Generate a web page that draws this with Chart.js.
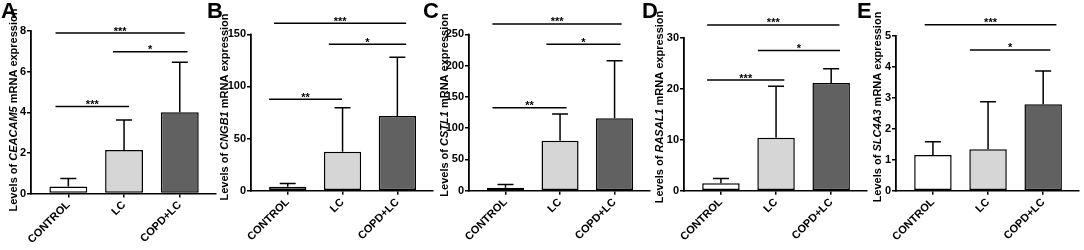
<!DOCTYPE html>
<html>
<head>
<meta charset="utf-8">
<script src="https://cdn.jsdelivr.net/npm/chart.js@4.4.0/dist/chart.umd.min.js"></script>
<style>
  html, body { margin: 0; padding: 0; background: #fff; }
  #wrap { position: relative; width: 1084px; height: 250px; overflow: hidden; }
  canvas { position: absolute; top: 0; }
</style>
</head>
<body>
<div id="wrap"></div>
<script>
// grupos e genes
const categorias = ['CONTROL', 'LC', 'COPD+LC'];
const genes = ['CEACAM5', 'CNGB1', 'CSTL1', 'RASAL1', 'SLC4A3'];
const letras = ['A', 'B', 'C', 'D', 'E'];

// médias (altura das barras) e desvio padrão (barra de erro)
const mediaCEACAM5 = [0.34, 2.14, 4.0];
const dpCEACAM5 = [0.40, 1.48, 2.46];
const mediaCNGB1 = [3.8, 37.4, 71.6];
const dpCNGB1 = [3.2, 42.2, 56.4];
const mediaCSTL1 = [4.8, 80, 115.7];
const dpCSTL1 = [5.2, 42.6, 92.1];
const mediaRASAL1 = [1.45, 10.4, 21.1];
const dpRASAL1 = [0.95, 10.1, 2.8];
const mediaSLC4A3 = [1.15, 1.34, 2.79];
const dpSLC4A3 = [0.43, 1.53, 1.07];

// eixo y
const yMax = [8, 150, 250, 30, 5];
const yPasso = [2, 50, 50, 10, 1];

// significância: de/ate em unidades de categoria, nivel em unidades do eixo y
const sigCEACAM5 = [
    { de: -0.23, ate: 2.09, nivel: 7.9, txt: '***' },
    { de: 0.80, ate: 2.14, nivel: 6.98, txt: '*' },
    { de: -0.23, ate: 1.09, nivel: 4.28, txt: '***' }
];
const sigCNGB1 = [
    { de: -0.25, ate: 2.16, nivel: 160.5, txt: '***' },
    { de: 0.75, ate: 2.16, nivel: 140.4, txt: '*' },
    { de: -0.34, ate: 0.99, nivel: 87.6, txt: '**' }
];
const sigCSTL1 = [
    { de: -0.24, ate: 2.13, nivel: 266.5, txt: '***' },
    { de: 0.75, ate: 2.11, nivel: 234, txt: '*' },
    { de: -0.24, ate: 1.12, nivel: 132.7, txt: '**' }
];
const sigRASAL1 = [
    { de: -0.25, ate: 2.15, nivel: 32.5, txt: '***' },
    { de: 0.67, ate: 2.16, nivel: 27.5, txt: '*' },
    { de: -0.25, ate: 1.15, nivel: 21.7, txt: '***' }
];
const sigSLC4A3 = [
    { de: -0.15, ate: 2.24, nivel: 5.35, txt: '***' },
    { de: 0.67, ate: 2.13, nivel: 4.54, txt: '*' }
];

const medias = [mediaCEACAM5, mediaCNGB1, mediaCSTL1, mediaRASAL1, mediaSLC4A3];
const dps = [dpCEACAM5, dpCNGB1, dpCSTL1, dpRASAL1, dpSLC4A3];
const sigs = [sigCEACAM5, sigCNGB1, sigCSTL1, sigRASAL1, sigSLC4A3];

const coresBarras = ['#ffffff', '#d6d6d6', '#616161'];
const FONTE = '"Liberation Sans", Arial, sans-serif';

// geometria de cada painel (px, coordenadas da página); os canvas se sobrepõem um pouco
const paineis = [
    { left: 0,   width: 217, letraX: 1,   eixoX: 31,  fimX: 216,  topo: 31,   zero: 193.5, tituloX: 14,  tituloY: 110 },
    { left: 205, width: 230, letraX: 207, eixoX: 251, fimX: 433,  topo: 34.3, zero: 190.7, tituloX: 225, tituloY: 107 },
    { left: 421, width: 232, letraX: 423, eixoX: 469, fimX: 650,  topo: 34.3, zero: 190.7, tituloX: 445, tituloY: 105 },
    { left: 640, width: 230, letraX: 642, eixoX: 684, fimX: 867,  topo: 37.7, zero: 190.7, tituloX: 660, tituloY: 107 },
    { left: 856, width: 228, letraX: 857, eixoX: 896, fimX: 1079, topo: 35.7, zero: 190.7, tituloX: 878, tituloY: 107 }
];

// barras de erro (só para cima)
const pluginErro = {
    id: 'erro',
    afterDatasetsDraw(chart) {
        const ctx = chart.ctx;
        const y = chart.scales.y;
        const meta = chart.getDatasetMeta(0);
        const dp = chart.options.plugins.erro.dp;
        ctx.save();
        ctx.strokeStyle = '#000';
        ctx.lineWidth = 1.5;
        meta.data.forEach((bar, i) => {
            const v = chart.data.datasets[0].data[i].y;
            const y0 = y.getPixelForValue(v);
            const y1 = y.getPixelForValue(v + dp[i]);
            ctx.beginPath();
            ctx.moveTo(bar.x, y0);
            ctx.lineTo(bar.x, y1);
            ctx.moveTo(bar.x - 8, y1);
            ctx.lineTo(bar.x + 8, y1);
            ctx.stroke();
        });
        ctx.restore();
    }
};

// linhas de significância, letra do painel, título do eixo y e linha do eixo y
const pluginAnotacoes = {
    id: 'anotacoes',
    afterDraw(chart) {
        const ctx = chart.ctx;
        const o = chart.options.plugins.anotacoes;
        const x = chart.scales.x;
        const y = chart.scales.y;
        ctx.save();
        ctx.strokeStyle = '#000';
        ctx.fillStyle = '#000';
        ctx.lineWidth = 1.5;
        o.sig.forEach(s => {
            const py = y.getPixelForValue(s.nivel);
            const x1 = x.getPixelForValue(s.de);
            const x2 = x.getPixelForValue(s.ate);
            ctx.beginPath();
            ctx.moveTo(x1, py);
            ctx.lineTo(x2, py);
            ctx.stroke();
            ctx.font = 'bold 11px ' + FONTE;
            ctx.textAlign = 'center';
            ctx.textBaseline = 'alphabetic';
            ctx.fillText(s.txt, (x1 + x2) / 2, py + 1.5);
        });

        // eixo y
        const ex = x.getPixelForValue(x.min);
        const yTopo = y.getPixelForValue(y.max);
        const yBase = y.getPixelForValue(0);
        ctx.fillRect(ex - 1, yTopo - 0.75, 1.6, yBase - yTopo + 1.5);

        // letra
        ctx.font = 'bold 22px ' + FONTE;
        ctx.textAlign = 'left';
        ctx.textBaseline = 'alphabetic';
        ctx.fillText(o.letra, o.letraX, 18);

        // título y com o gene em itálico
        const partes = [
            { t: 'Levels of ', f: 'bold 11px ' + FONTE },
            { t: o.gene, f: 'italic bold 11px ' + FONTE },
            { t: ' mRNA expression', f: 'bold 11px ' + FONTE }
        ];
        let total = 0;
        partes.forEach(p => { ctx.font = p.f; p.w = ctx.measureText(p.t).width; total += p.w; });
        ctx.translate(o.tituloX, o.tituloY);
        ctx.rotate(-Math.PI / 2);
        ctx.textBaseline = 'middle';
        let pos = -total / 2;
        partes.forEach(p => { ctx.font = p.f; ctx.fillText(p.t, pos, 0); pos += p.w; });
        ctx.restore();
    }
};

const wrap = document.getElementById('wrap');

paineis.forEach((p, k) => {
    const cv = document.createElement('canvas');
    cv.width = p.width;
    cv.height = 250;
    cv.style.left = p.left + 'px';
    cv.style.width = p.width + 'px';
    cv.style.height = '250px';
    wrap.appendChild(cv);

    const pontos = medias[k].map((v, i) => ({ x: i, y: v }));

    new Chart(cv, {
        type: 'bar',
        data: {
            datasets: [{
                data: pontos,
                backgroundColor: coresBarras,
                borderColor: '#000',
                borderWidth: 1.5,
                borderSkipped: false,
                barPercentage: 0.68,
                categoryPercentage: 1
            }]
        },
        options: {
            responsive: false,
            animation: false,
            layout: {
                padding: { left: 0, right: (p.left + p.width) - p.fimX, top: p.topo, bottom: 0 }
            },
            plugins: {
                legend: { display: false },
                tooltip: { enabled: false },
                erro: { dp: dps[k] },
                anotacoes: {
                    sig: sigs[k], letra: letras[k], gene: genes[k],
                    letraX: p.letraX - p.left,
                    tituloX: p.tituloX - p.left, tituloY: p.tituloY
                }
            },
            scales: {
                x: {
                    type: 'linear',
                    offset: false,
                    min: -0.67,
                    max: 2.65,
                    afterBuildTicks: s => { s.ticks = categorias.map((c, i) => ({ value: i })); },
                    afterFit: s => {
                        s.height = 250 - p.zero;
                        s.paddingLeft = 0;
                        s.paddingRight = 0;
                    },
                    ticks: {
                        callback: v => categorias[v],
                        autoSkip: false,
                        minRotation: 45,
                        maxRotation: 45,
                        padding: 1,
                        color: '#000',
                        font: { family: FONTE, size: 11, weight: 'bold' }
                    },
                    grid: { offset: false, drawOnChartArea: false, drawTicks: true, tickLength: 4, color: '#000', lineWidth: 1.5 },
                    border: { color: '#000', width: 1.5 }
                },
                y: {
                    min: 0,
                    max: yMax[k],
                    afterFit: s => { s.width = p.eixoX - p.left; },
                    ticks: {
                        stepSize: yPasso[k],
                        padding: 1,
                        color: '#000',
                        font: { family: FONTE, size: 11, weight: 'bold' }
                    },
                    grid: { drawOnChartArea: false, drawTicks: true, tickLength: 4, color: '#000', lineWidth: 1.5 },
                    border: { color: '#000', width: 1.5 }
                }
            }
        },
        plugins: [pluginErro, pluginAnotacoes]
    });
});
</script>
</body>
</html>
